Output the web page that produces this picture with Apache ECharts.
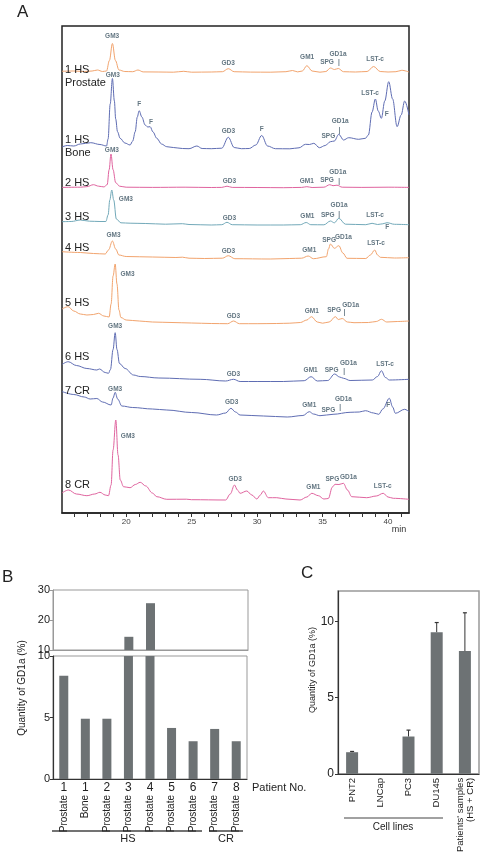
<!DOCTYPE html>
<html><head><meta charset="utf-8">
<script src="https://cdn.jsdelivr.net/npm/echarts@6/dist/echarts.min.js"></script>
<style>html,body{margin:0;padding:0;background:#fff}#c{width:485px;height:855px}</style>
</head><body><div id="c"></div>
<script>
// ---------- Panel A: HPLC chromatograms (time in min, signal above own baseline) ----------
const minuteLabels = [20, 25, 30, 35, 40];
const minuteTicks = [16,17,18,19,20,21,22,23,24,25,26,27,28,29,30,31,32,33,34,35,36,37,38,39,40,41];

const trace1Prostate = [[15.1,1.2],[16.0,1.5],[16.8,1.0],[17.4,1.5],[17.8,2.5],[18.2,1.0],[18.5,1.5],[18.72,12],[18.95,29],[19.18,12],[19.45,2.5],[19.9,1.0],[20.5,0.8],[20.9,2.5],[21.3,0.6],[22.5,0.5],[23.6,0.3],[24.4,1.2],[25.0,0.3],[26.5,0.5],[27.35,0.8],[27.8,3.8],[28.25,0.8],[29.5,0.4],[31.0,0.3],[32.2,0.8],[32.7,2.0],[33.1,0.6],[33.45,1.5],[33.8,6.8],[34.2,1.5],[34.8,0.3],[35.25,1.0],[35.6,4.5],[35.9,3.0],[36.2,4.0],[36.6,0.8],[37.5,0.5],[38.4,1.0],[38.9,6.0],[39.4,1.0],[40.0,0.5],[40.6,0.8],[41.05,2.2],[41.6,0.5]];
const trace1Bone = [[15.1,2.0],[15.5,3.5],[16.0,3.0],[16.5,5.0],[17.3,6.3],[18.0,4.5],[18.5,3.0],[18.62,10],[18.78,45],[18.95,70.5],[19.1,48],[19.2,30],[19.34,17.3],[19.54,10.7],[19.9,6],[20.3,4.0],[20.5,8],[20.69,17.3],[20.85,32],[20.99,38.3],[21.2,32],[21.45,24],[21.65,22],[21.83,22.3],[22.05,17],[22.34,10.7],[22.7,5],[23.1,2.3],[23.6,1.5],[24.3,0.5],[24.8,0.3],[25.4,3.0],[25.8,0.5],[26.5,0.3],[27.3,0.8],[27.8,11.7],[28.25,1.5],[28.8,0.3],[29.4,0.5],[29.9,4],[30.35,13.5],[30.8,3],[31.4,0.3],[32.5,0.2],[33.2,1.2],[33.7,4.7],[34.0,4.5],[34.33,5.7],[34.76,1.3],[35.2,3.5],[35.6,7.3],[35.9,8],[36.24,14.7],[36.6,9],[37.0,11.3],[37.76,9.7],[38.27,10.7],[38.5,14],[38.78,37],[39.03,50],[39.25,38],[39.49,30.7],[39.75,48],[40.05,67.3],[40.35,50],[40.69,22.3],[41.0,34],[41.27,48],[41.6,34]];
const trace2 = [[15.1,0.3],[16.5,0.5],[17.0,1.0],[17.5,3.0],[17.9,1.5],[18.3,0.8],[18.55,3],[18.7,18],[18.84,33.7],[19.0,18],[19.2,5],[19.5,1.5],[20.0,0.5],[22.0,0.3],[24.5,0.5],[26.5,0.2],[27.3,0.3],[27.7,1.5],[28.1,0.3],[30.0,0.2],[32.0,0],[33.4,0.3],[33.8,1.0],[34.2,0.2],[35.1,0.5],[35.55,3.0],[35.8,2.0],[36.1,2.5],[36.5,0.5],[38.0,0.3],[40.0,0.5],[41.6,0.3]];
const trace3 = [[15.1,3.3],[15.8,3.5],[16.5,5.0],[17.2,3.8],[18.0,3.5],[18.45,3.5],[18.62,10],[18.75,25],[18.9,35],[19.05,25],[19.25,6],[19.6,2.2],[20.3,1.8],[21.5,1.5],[23.0,0.8],[24.3,1.3],[24.8,0.5],[26.5,0],[27.3,0.3],[27.7,2.7],[28.1,0.3],[30.0,0],[32.0,0],[33.3,0.3],[33.75,2.5],[34.1,0.3],[35.1,0.2],[35.6,4.0],[35.9,2.2],[36.24,6.7],[36.75,0.8],[38.3,0.3],[38.78,1.7],[39.2,0.5],[39.6,1.2],[39.92,2.3],[40.5,0.7],[41.6,0.3]];
const trace4 = [[15.1,7.3],[16.5,6.5],[17.5,5.5],[18.4,5.0],[18.65,9],[18.95,18],[19.2,10],[19.45,4],[20.0,2.5],[22.0,2.0],[23.8,1.5],[24.3,1.8],[24.8,0.8],[26.0,0.5],[27.35,0.8],[27.8,3.3],[28.3,0.3],[31.0,0],[32.5,0.5],[33.4,0.8],[33.9,3.0],[34.3,0.3],[35.29,2.3],[35.45,10],[35.6,15],[35.9,10.7],[36.24,13.3],[36.55,6],[36.87,0.7],[38.3,0.5],[38.65,4],[38.98,9.0],[39.2,4],[39.41,1.7],[40.5,1.0],[41.6,1.3]];
const trace5 = [[15.1,15],[15.57,17.3],[16.0,13],[16.5,10],[17.0,9],[17.5,9.5],[17.89,10.7],[18.3,8],[18.7,7],[18.85,20],[19.0,48],[19.16,60],[19.3,40],[19.45,14],[19.6,6.5],[20.0,4],[21.0,3],[22.0,2],[23.5,1.5],[25.0,1],[26.5,0.5],[27.75,0.3],[28.2,3.0],[28.65,0.3],[30.0,0.3],[31.5,0.5],[32.5,0.8],[33.3,1.5],[33.8,4],[34.15,7.3],[34.6,2],[35.0,0.8],[35.5,2],[35.98,7.3],[36.2,4.5],[36.5,5.5],[36.9,2],[37.4,1.3],[38.5,1.5],[39.1,2.5],[39.5,4.7],[39.9,2.0],[40.7,2.5],[41.6,3]];
const trace6 = [[15.1,17],[15.57,19.8],[16.2,16],[17.0,13],[17.76,11.5],[17.96,12.5],[18.4,9],[18.65,8.2],[18.8,12],[19.0,32],[19.16,48.8],[19.3,32],[19.49,18],[19.92,13],[20.56,6.5],[21.07,5],[22.5,3.5],[25.65,2.2],[27.6,0.5],[28.2,2.2],[28.7,0],[30.0,0],[32.0,0],[33.6,0.8],[34.12,4.8],[34.6,0.5],[35.4,1],[35.92,7.5],[36.3,4.5],[36.6,3.2],[37.1,1.0],[38.8,1.5],[39.2,5],[39.49,10.8],[39.8,4],[40.1,1.5],[41.6,2.2]];
const trace7 = [[15.1,24.5],[16.0,21.5],[16.8,19],[17.25,17],[17.76,17.5],[18.2,14],[18.85,11],[19.0,18],[19.16,23.7],[19.35,17],[19.67,10],[20.5,8.5],[22.0,7],[23.1,6],[25.0,3.5],[26.9,1],[27.6,3],[28.0,7.7],[28.35,4],[28.7,1],[30.5,0],[32.3,-1],[33.5,0.5],[33.99,4.3],[34.3,2],[34.8,0.3],[35.8,1.7],[37.1,3.7],[37.8,4],[38.27,5.3],[38.9,3.0],[39.29,1.7],[39.6,7],[40.1,17.7],[40.35,9],[40.56,2.7],[41.27,6.7],[41.6,4.3]];
const trace8 = [[15.1,7],[15.6,10],[16.2,6],[17.0,4.3],[17.6,6],[18.0,7.7],[18.4,5],[18.65,4.3],[18.85,15],[19.0,50],[19.21,80],[19.38,45],[19.55,20],[19.8,13.3],[20.3,12.3],[20.7,15.5],[21.07,17.7],[21.5,14],[22.0,7],[22.34,3.3],[23.1,0.7],[24.6,0.8],[25.0,0.3],[27.6,0],[27.95,6],[28.27,15],[28.5,10],[28.7,6.7],[29.21,9],[29.6,5],[29.98,1],[30.25,5],[30.47,9],[30.86,2.3],[31.5,2.3],[32.2,1],[33.28,0],[33.8,3],[34.18,6.7],[34.68,4.3],[35.1,1],[35.44,1.5],[35.75,13],[35.95,15.7],[36.25,15.5],[36.59,16.7],[36.9,10],[37.23,3.3],[38.37,2.3],[39.1,4],[39.63,6.7],[40.0,3],[40.4,1.7],[41.6,0.7]];

const traceTitles = [['1 HS', 'Prostate'], ['1 HS', 'Bone'], ['2 HS'], ['3 HS'], ['4 HS'], ['5 HS'], ['6 HS'], ['7 CR'], ['8 CR']];

// peak annotations: [label, minute, height above the trace baseline]
const peaks1Prostate = [['GM3',18.93,35.8],['GD3',27.79,9.5],['GM1',33.82,14.8],['SPG',35.34,10.5],['GD1a',36.18,18.5],['|',36.24,10.2],['LST-c',39.01,12.8]];
const peaks1Bone = [['GM3',18.98,74],['F',20.99,45],['F',21.89,26.7],['GD3',27.81,17.3],['F',30.36,20],['SPG',35.44,12.3],['GD1a',36.34,27.3],['|',36.28,19],['LST-c',38.63,55.7],['F',39.9,34.7]];
const peaks2 = [['GM3',18.91,37.7],['GD3',27.89,6],['GM1',33.79,6],['SPG',35.34,7.4],['GD1a',36.16,15],['|',36.26,6]];
const peaks3 = [['GM3',19.98,25.7],['GD3',27.89,6.3],['GM1',33.84,8.3],['SPG',35.4,9.7],['GD1a',36.26,19.7],['|',36.26,11],['LST-c',39.01,9.7],['F',39.94,-2.3]];
const peaks4 = [['GM3',19.03,24],['GD3',27.81,8],['GM1',33.99,8.3],['SPG',35.5,19],['GD1a',36.59,21.3],['LST-c',39.08,15.7]];
const peaks5 = [['GM3',20.1,49.7],['GD3',28.19,8],['GM1',34.17,13],['SPG',35.88,13.3],['GD1a',37.15,18.3],['|',36.66,11.3]];
const peaks6 = [['GM3',19.16,54.8],['GD3',28.19,7.5],['GM1',34.09,11.5],['SPG',35.69,11.5],['GD1a',36.97,18.2],['|',36.64,9.8],['LST-c',39.77,17.2]];
const peaks7 = [['GM3',19.16,27],['GD3',28.06,13.3],['GM1',33.98,11],['SPG',35.44,6],['GD1a',36.59,16.7],['|',36.34,8.7],['F',40.02,11]];
const peaks8 = [['GM3',20.13,63.3],['GD3',28.32,20.7],['GM1',34.3,12.3],['SPG',35.75,21],['GD1a',36.97,22.7],['LST-c',39.59,14]];

// ---------- Panel B ----------
const patientNo = ['1','1','2','3','4','5','6','7','8'];
const tissue = ['Prostate','Bone','Prostate','Prostate','Prostate','Prostate','Prostate','Prostate','Prostate'];
const gd1aPatients = [8.4, 4.9, 4.9, 14.4, 25.6, 4.15, 3.07, 4.07, 3.07];
const bUpperTicks = [10, 20, 30];
const bLowerTicks = [0, 5, 10];

// ---------- Panel C ----------
const cellLines = ['PNT2', 'LNCap', 'PC3', 'DU145', "Patients' samples\n(HS + CR)"];
const gd1aCells = [1.42, 0, 2.45, 9.3, 8.06];
const gd1aCellsSD = [0.05, 0, 0.42, 0.63, 2.51];
const cTicks = [0, 5, 10];

// ---------- layout / styles ----------
const traces = [trace1Prostate, trace1Bone, trace2, trace3, trace4, trace5, trace6, trace7, trace8];
const peakSets = [peaks1Prostate, peaks1Bone, peaks2, peaks3, peaks4, peaks5, peaks6, peaks7, peaks8];
const baseOffsets = [440.5, 364, 325.3, 288, 254, 189, 131.5, 97, 13];
const traceColors = ['#f2a46e', '#5f6db3', '#e0649f', '#72a9b9', '#f2a46e', '#f2a46e', '#5f6db3', '#5f6db3', '#e0649f'];
const titleY = [[70, 82.5], [140, 152.5], [182.7], [217.3], [248.3], [303.3], [356.7], [390.7], [485]];

const narrow = "'Liberation Sans Narrow', 'Liberation Sans', Arial, sans-serif";
const sans = "'Liberation Sans', Arial, sans-serif";

const chart = echarts.init(document.getElementById('c'), null, {renderer: 'canvas'});

const series = [];
traces.forEach((tr, k) => {
  series.push({
    type: 'line', xAxisIndex: 0, yAxisIndex: 0,
    data: tr.map(p => [p[0], baseOffsets[k] + p[1]]),
    showSymbol: false, smooth: 0.35, smoothMonotone: 'x', silent: true,
    lineStyle: {width: 1, color: traceColors[k]}, z: 2
  });
});
const annData = [];
peakSets.forEach((ps, k) => ps.forEach(p => annData.push({value: [p[1], baseOffsets[k] + p[2]], name: p[0]})));
series.push({
  type: 'scatter', xAxisIndex: 0, yAxisIndex: 0, symbolSize: 0, silent: true, z: 5,
  data: annData,
  label: {show: true, position: 'inside', formatter: p => p.name, fontSize: 6.5, fontWeight: 'bold',
          color: '#3b5361', fontFamily: sans}
});

// Panel B bars
series.push({type: 'bar', xAxisIndex: 1, yAxisIndex: 1, barWidth: 9, silent: true,
  itemStyle: {color: '#6d7274'}, data: gd1aPatients.map(v => v > 10 ? v : '-')});
series.push({type: 'bar', xAxisIndex: 2, yAxisIndex: 2, barWidth: 9, silent: true,
  itemStyle: {color: '#6d7274'}, data: gd1aPatients});

// Panel C bars + error bars
series.push({type: 'bar', xAxisIndex: 4, yAxisIndex: 3, barWidth: 12, silent: true,
  itemStyle: {color: '#6d7274'}, data: gd1aCells});
series.push({type: 'custom', xAxisIndex: 4, yAxisIndex: 3, silent: true, z: 5,
  data: gd1aCells.map((v, i) => [i, v, gd1aCellsSD[i]]),
  renderItem: (params, api) => {
    const e = api.value(2);
    if (!e) return null;
    const p0 = api.coord([api.value(0), api.value(1)]);
    const p1 = api.coord([api.value(0), api.value(1) + e]);
    return {type: 'group', children: [
      {type: 'line', shape: {x1: p0[0], y1: p0[1], x2: p1[0], y2: p1[1]}, style: {stroke: '#333', lineWidth: 1}},
      {type: 'line', shape: {x1: p1[0] - 2, y1: p1[1], x2: p1[0] + 2, y2: p1[1]}, style: {stroke: '#333', lineWidth: 1.2}}
    ]};
  }
});

const graphics = [
  {type: 'text', left: 17, top: 4, style: {text: 'A', font: "17px " + sans, fill: '#222'}},
  {type: 'text', left: 2, top: 569, style: {text: 'B', font: "17px " + sans, fill: '#222'}},
  {type: 'text', left: 301, top: 565, style: {text: 'C', font: "17px " + sans, fill: '#222'}},
  {type: 'text', x: 399, y: 530, style: {text: 'min', font: "9px " + sans, fill: '#333', align: 'center', verticalAlign: 'middle'}},
  // panel B annotations
  {type: 'text', x: 22, y: 688, rotation: Math.PI / 2, style: {text: 'Quantity of GD1a (%)', font: "10px " + narrow, fill: '#222', align: 'center', verticalAlign: 'middle'}},
  {type: 'text', x: 252, y: 788, style: {text: 'Patient No.', font: "11px " + narrow, fill: '#222', verticalAlign: 'middle'}},
  {type: 'line', shape: {x1: 52, y1: 831, x2: 202, y2: 831}, style: {stroke: '#444', lineWidth: 1.5}},
  {type: 'line', shape: {x1: 209, y1: 831, x2: 243, y2: 831}, style: {stroke: '#444', lineWidth: 1.5}},
  {type: 'text', x: 128, y: 839, style: {text: 'HS', font: "11px " + narrow, fill: '#222', align: 'center', verticalAlign: 'middle'}},
  {type: 'text', x: 226, y: 839, style: {text: 'CR', font: "11px " + narrow, fill: '#222', align: 'center', verticalAlign: 'middle'}},
  // panel C annotations
  {type: 'text', x: 313, y: 670, rotation: Math.PI / 2, style: {text: 'Quantity of GD1a (%)', font: "9px " + narrow, fill: '#222', align: 'center', verticalAlign: 'middle'}},
  {type: 'line', shape: {x1: 344, y1: 818, x2: 443, y2: 818}, style: {stroke: '#444', lineWidth: 1.2}},
  {type: 'text', x: 393, y: 827, style: {text: 'Cell lines', font: "10px " + narrow, fill: '#222', align: 'center', verticalAlign: 'middle'}}
];
traceTitles.forEach((t, k) => t.forEach((s, j) => graphics.push({
  type: 'text', x: 65, y: titleY[k][j], z: 10,
  style: {text: s, font: "11px " + sans, fill: '#222', verticalAlign: 'middle'}
})));

const option = {
  animation: false,
  backgroundColor: '#fff',
  grid: [
    {left: 62, top: 26, width: 347, height: 487, show: true, borderColor: '#222', borderWidth: 1.5, backgroundColor: 'transparent'},
    {left: 53, top: 590, width: 195, height: 60, show: true, borderColor: '#999', borderWidth: 1},
    {left: 53, top: 656, width: 194, height: 123, show: true, borderColor: '#999', borderWidth: 1},
    {left: 338, top: 591, width: 141, height: 188, show: true, borderColor: '#999', borderWidth: 1.5}
  ],
  xAxis: [
    {gridIndex: 0, type: 'value', min: 15.1, max: 41.6,
     axisLine: {show: true, lineStyle: {color: '#222', width: 1.5}},
     axisTick: {show: true, customValues: minuteTicks, length: 4, lineStyle: {color: '#333'}},
     axisLabel: {customValues: minuteLabels, fontSize: 8, color: '#444', margin: 5, fontFamily: sans},
     splitLine: {show: false}},
    {gridIndex: 1, type: 'category', data: patientNo, axisLine: {show: true, lineStyle: {color: '#999'}},
     axisTick: {show: false}, axisLabel: {show: false}},
    {gridIndex: 2, type: 'category', data: patientNo, axisLine: {show: true, lineStyle: {color: '#333', width: 1.2}},
     axisTick: {show: false}, axisLabel: {fontSize: 12, color: '#222', margin: 3, fontFamily: narrow}},
    {gridIndex: 2, type: 'category', data: tissue, position: 'bottom', offset: 15,
     axisLine: {show: false}, axisTick: {show: false},
     axisLabel: {rotate: 90, fontSize: 10, color: '#222', margin: 1, fontFamily: narrow}},
    {gridIndex: 3, type: 'category', data: cellLines, axisLine: {show: true, lineStyle: {color: '#333', width: 1.2}},
     axisTick: {show: false}, axisLabel: {rotate: 90, fontSize: 9.5, color: '#222', margin: 4, fontFamily: narrow, lineHeight: 10}}
  ],
  yAxis: [
    {gridIndex: 0, type: 'value', min: 0, max: 487, show: false},
    {gridIndex: 1, type: 'value', min: 10, max: 30, interval: 10,
     axisLine: {show: true, lineStyle: {color: '#999'}}, axisTick: {show: true, length: 3, customValues: bUpperTicks},
     axisLabel: {customValues: bUpperTicks, fontSize: 11, color: '#222', margin: 3, fontFamily: narrow}, splitLine: {show: false}},
    {gridIndex: 2, type: 'value', min: 0, max: 10, interval: 5,
     axisLine: {show: true, lineStyle: {color: '#333', width: 1.2}}, axisTick: {show: true, length: 3, customValues: bLowerTicks},
     axisLabel: {customValues: bLowerTicks, fontSize: 11, color: '#222', margin: 3, fontFamily: narrow}, splitLine: {show: false}},
    {gridIndex: 3, type: 'value', min: 0, max: 12, interval: 5,
     axisLine: {show: true, lineStyle: {color: '#333', width: 1.2}}, axisTick: {show: true, length: 3, customValues: cTicks},
     axisLabel: {customValues: cTicks, fontSize: 12, color: '#222', margin: 4, fontFamily: narrow}, splitLine: {show: false}}
  ],
  series: series,
  graphic: graphics
};
chart.setOption(option);
</script>
</body></html>
